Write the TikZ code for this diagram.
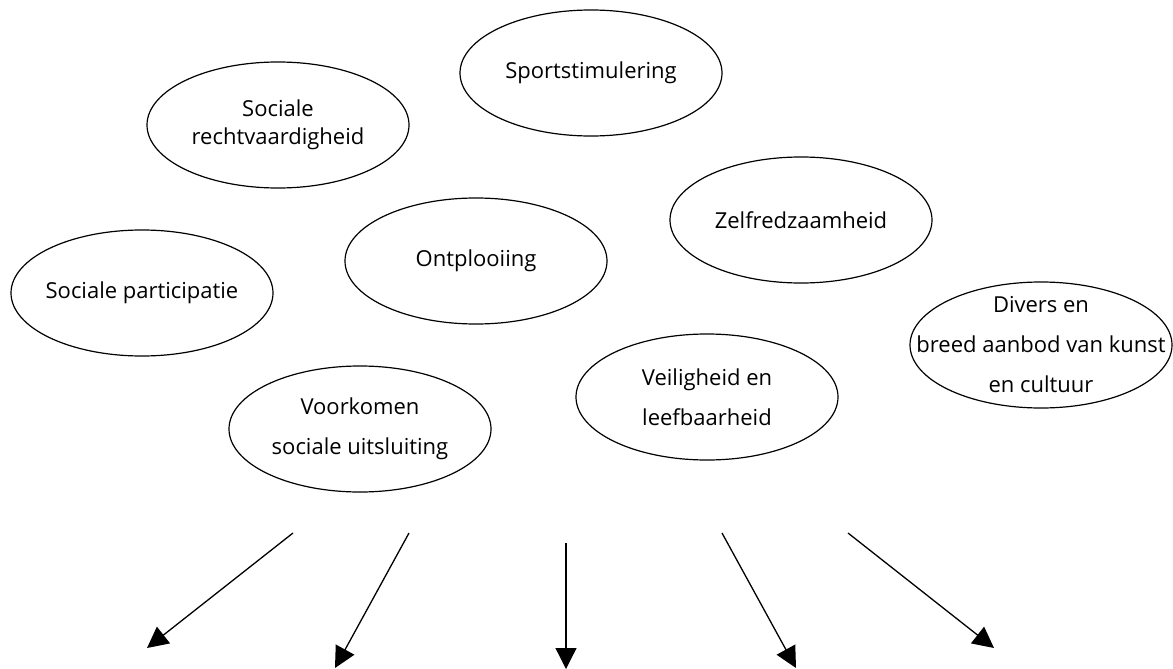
\documentclass[tikz,border=0pt]{standalone}
\usepackage{fontspec}
\setmainfont{Open Sans}
\usetikzlibrary{shapes.geometric,arrows.meta}
\tikzset{
  doel/.style={draw, ellipse, line width=0.6pt, minimum width=131pt, minimum height=63pt, inner sep=0pt},
  tekst/.style={align=center, font=\fontsize{11}{20}\selectfont},
  pijl/.style={->, line width=0.65pt}
}
\begin{document}
\begin{tikzpicture}[x=0.5pt, y=-0.5pt, >={Triangle[length=10.5pt,width=10.5pt]}]
\useasboundingbox (0,0) rectangle (1173,669);
\node[doel, label={[tekst]center:Sportstimulering}] (sport) at (591,73) {};
\node[doel, label={[tekst, font=\fontsize{11}{14}\selectfont]center:{Sociale\\rechtvaardigheid}}] (recht) at (278,125) {};
\node[doel, label={[tekst]center:Zelfredzaamheid}] (zelf) at (801,220) {};
\node[doel, label={[tekst]center:Ontplooiing}] (ontpl) at (476,261) {};
\node[doel, label={[tekst]center:Sociale participatie}] (partic) at (142,293) {};
\node[doel, label={[tekst]center:{Divers en\\breed aanbod van kunst\\en cultuur}}] (kunst) at (1041,345) {};
\node[doel, label={[tekst]center:{Veiligheid en\\leefbaarheid}}] (veilig) at (707,397) {};
\node[doel, label={[tekst]center:{Voorkomen\\sociale uitsluiting}}] (uitsl) at (360,429) {};
\coordinate (s1) at (293,533); \coordinate (e1) at (147,648);
\coordinate (s2) at (409,533); \coordinate (e2) at (335,668);
\coordinate (s3) at (566,543); \coordinate (e3) at (566,669);
\coordinate (s4) at (722,533); \coordinate (e4) at (796,668);
\coordinate (s5) at (848,533); \coordinate (e5) at (994,648);
\foreach \i in {1,...,5}
  \draw[pijl] (s\i) -- (e\i);
\end{tikzpicture}
\end{document}
